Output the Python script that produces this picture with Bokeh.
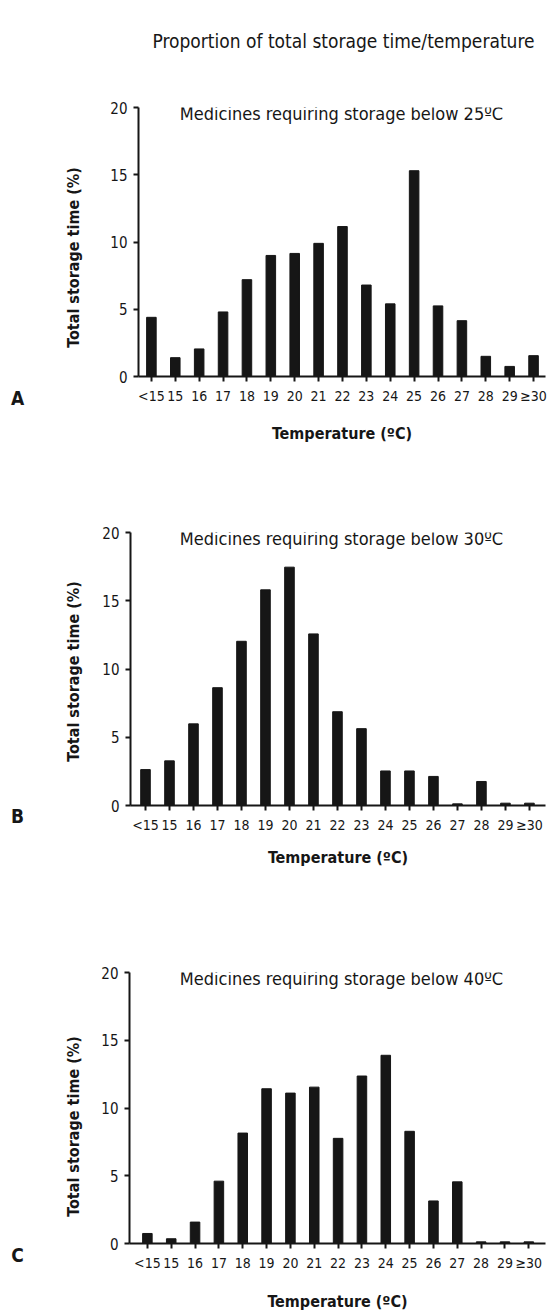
import math
from bokeh.plotting import figure
from bokeh.models import Range1d, FixedTicker, Label, ColumnDataSource
from bokeh.layouts import column, row
from bokeh.embed import file_html
from bokeh.resources import INLINE

# ---- data ----
categories = ["<15", "15", "16", "17", "18", "19", "20", "21", "22",
              "23", "24", "25", "26", "27", "28", "29", "\u226530"]
storage_below_25 = [4.4, 1.4, 2.05, 4.8, 7.2, 9.0, 9.15, 9.9, 11.15,
                    6.8, 5.4, 15.3, 5.25, 4.15, 1.5, 0.75, 1.55]
storage_below_30 = [2.63, 3.27, 5.98, 8.63, 12.03, 15.8, 17.46, 12.57, 6.87,
                    5.63, 2.53, 2.53, 2.13, 0.12, 1.76, 0.17, 0.17]
storage_below_40 = [0.74, 0.35, 1.58, 4.6, 8.15, 11.42, 11.1, 11.54, 7.76,
                    12.36, 13.89, 8.28, 3.14, 4.55, 0.12, 0.12, 0.12]
panel_letters = ["A", "B", "C"]
panel_titles = ["Medicines requiring storage below 25\u00baC",
                "Medicines requiring storage below 30\u00baC",
                "Medicines requiring storage below 40\u00baC"]
y_ticks = [0, 5, 10, 15, 20]
main_title = "Proportion of total storage time/temperature"
y_label = "Total storage time (%)"
x_label = "Temperature (\u00baC)"

FONT = "'Liberation Sans Narrow', 'DejaVu Sans Condensed', 'Arial Narrow', sans-serif"
INK = "#161616"

W = 547
H = 1315
GUT = 90      # width of the left gutter holding the panel letters and the y labels
TOP = 60      # height of the strip holding the overall title
# per panel: (fig height, border top, border bottom, frame left on page, x start, x end, xlabel standoff)
layouts = [
    (410, 47, 94, 138, -0.54, 16.5, 17),
    (435, 62, 100, 130, -0.625, 16.67, 12),
    (410, 67, 72, 129, -0.75, 16.7, 18),
]
series = [storage_below_25, storage_below_30, storage_below_40]
letter_page_y = [397, 815, 1254]
ylabel_page_y = [257, 671, 1126]


def blank(width, height):
    f = figure(width=width, height=height, output_backend="svg", toolbar_location=None,
               x_range=Range1d(0, width), y_range=Range1d(0, height))
    f.frame_align = False
    f.min_border_left = f.min_border_right = f.min_border_top = f.min_border_bottom = 0
    f.axis.visible = False
    f.grid.visible = False
    f.outline_line_color = None
    f.border_fill_color = "white"
    f.background_fill_color = "white"
    return f


# ---- gutter (one tall figure for the whole page height) ----
g = blank(GUT, H)
for k in range(3):
    g.add_layout(Label(x=73, y=H - ylabel_page_y[k], text=y_label,
                       angle=math.pi / 2, text_align="center", text_baseline="middle",
                       text_font=FONT, text_font_size="16px", text_font_style="bold",
                       text_color=INK))
    g.add_layout(Label(x=17, y=H - letter_page_y[k], text=panel_letters[k],
                       text_align="center", text_baseline="middle",
                       text_font=FONT, text_font_size="19px", text_font_style="bold",
                       text_color=INK))

# ---- strip with the overall title ----
t = blank(W - GUT, TOP)
t.add_layout(Label(x=343 - GUT, y=TOP - 40, text=main_title, text_align="center",
                   text_baseline="alphabetic", text_font=FONT, text_font_size="19px",
                   text_color=INK))

charts = [t]
for k, (h, bt, bb, fl, xs, xe, xstand) in enumerate(layouts):
    p = figure(width=W - GUT, height=h, output_backend="svg", toolbar_location=None,
               x_range=Range1d(xs, xe), y_range=Range1d(0, 20))
    p.frame_align = False
    p.min_border_top = bt
    p.min_border_bottom = bb
    p.min_border_left = fl - GUT
    p.min_border_right = 2
    p.outline_line_color = None
    p.background_fill_color = "white"
    p.border_fill_color = "white"
    p.xgrid.visible = False
    p.ygrid.visible = False

    src = ColumnDataSource(dict(x=list(range(len(categories))), top=series[k]))
    p.vbar(x="x", top="top", bottom=0, width=0.4, source=src,
           fill_color=INK, line_color=INK)

    for ax in (p.xaxis[0], p.yaxis[0]):
        ax.axis_line_width = 2
        ax.axis_line_color = INK
        ax.major_tick_line_color = INK
        ax.major_tick_line_width = 2
        ax.major_tick_in = 0
        ax.major_tick_out = 5
        ax.minor_tick_line_color = None
        ax.major_label_text_font = FONT
        ax.major_label_text_color = INK

    p.xaxis.ticker = FixedTicker(ticks=list(range(len(categories))))
    p.xaxis.major_label_overrides = {i: c for i, c in enumerate(categories)}
    p.xaxis.major_label_text_font_size = "14px"
    p.xaxis.major_label_standoff = 6
    p.xaxis.axis_label = x_label
    p.xaxis.axis_label_text_font = FONT
    p.xaxis.axis_label_text_font_size = "16px"
    p.xaxis.axis_label_text_font_style = "bold"
    p.xaxis.axis_label_text_color = INK
    p.xaxis.axis_label_standoff = xstand

    p.yaxis.ticker = FixedTicker(ticks=y_ticks)
    p.yaxis.major_label_text_font_size = "15px"
    p.yaxis.major_label_standoff = 6

    frame_h = h - bt - bb
    p.add_layout(Label(x=341 - fl, y=frame_h - 6, x_units="screen", y_units="screen",
                       text=panel_titles[k], text_align="center", text_baseline="alphabetic",
                       text_font=FONT, text_font_size="18px", text_color=INK))
    charts.append(p)

layout = row(g, column(*charts, spacing=0), spacing=0)
open("out.html", "w").write(file_html(layout, INLINE))
